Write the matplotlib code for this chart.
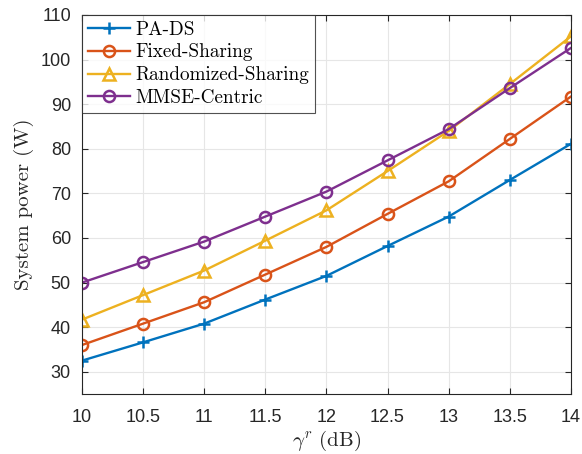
import matplotlib
matplotlib.use("Agg")
import matplotlib.pyplot as plt

plt.rcParams['mathtext.fontset'] = 'cm'

x = [10, 10.5, 11, 11.5, 12, 12.5, 13, 13.5, 14]
pa_ds = [32.5, 36.6, 40.8, 46.2, 51.5, 58.2, 64.8, 73.0, 81.1]
fixed = [36.0, 40.8, 45.6, 51.8, 58.0, 65.4, 72.7, 82.2, 91.7]
randomized = [41.7, 47.2, 52.7, 59.4, 66.2, 75.0, 84.0, 94.5, 105.2]
mmse = [50.0, 54.6, 59.2, 64.8, 70.4, 77.4, 84.4, 93.6, 102.6]
labels = ['PA-DS', 'Fixed-Sharing', 'Randomized-Sharing', 'MMSE-Centric']
xticks = [10, 10.5, 11, 11.5, 12, 12.5, 13, 13.5, 14]
xticklabels = ['10', '10.5', '11', '11.5', '12', '12.5', '13', '13.5', '14']
yticks = [30, 40, 50, 60, 70, 80, 90, 100, 110]

fig = plt.figure(figsize=(5.82, 4.54), dpi=100)
ax = fig.add_axes([0.1409, 0.132, 0.840, 0.835])

lw = 1.7
ms = 8
ax.plot(x, pa_ds, color='#0072BD', lw=lw, marker='+', ms=ms, mew=1.8, label=labels[0])
ax.plot(x, fixed, color='#D95319', lw=lw, marker='o', ms=ms, mew=1.8, mfc='none', label=labels[1])
ax.plot(x, randomized, color='#EDB120', lw=lw, marker='^', ms=ms + 1, mew=1.8, mfc='none', label=labels[2])
ax.plot(x, mmse, color='#7E2F8E', lw=lw, marker='o', ms=ms, mew=1.8, mfc='none', label=labels[3])

ax.set_xlim(10, 14)
ax.set_ylim(25, 110)
ax.set_xticks(xticks)
ax.set_xticklabels(xticklabels)
ax.set_yticks(yticks)
ax.grid(True, color='#e6e6e6', lw=0.8)
ax.set_axisbelow(True)
ax.tick_params(direction='in', top=True, right=True, length=4, width=0.8,
               colors='#262626', labelsize=13, pad=8)
ax.tick_params(axis='x', pad=11)
for lab in ax.get_xticklabels() + ax.get_yticklabels():
    lab.set_fontfamily('Liberation Sans')
for s in ax.spines.values():
    s.set_color('#262626')
    s.set_linewidth(0.8)

ax.set_xlabel(r'$\gamma^r$ (dB)', fontsize=15, family='cmr10', color='#262626', labelpad=2)
ax.set_ylabel('System power (W)', fontsize=15, family='cmr10', color='#262626', labelpad=5)

leg = ax.legend(loc='upper left', prop={'family': 'cmr10', 'size': 13.8},
                frameon=True, fancybox=False, borderaxespad=0, handlelength=2.2,
                handletextpad=0.3, labelspacing=0.25, borderpad=0.3)
leg.get_frame().set_edgecolor('#262626')
leg.get_frame().set_linewidth(0.8)

fig.savefig('out.png', dpi=100)
